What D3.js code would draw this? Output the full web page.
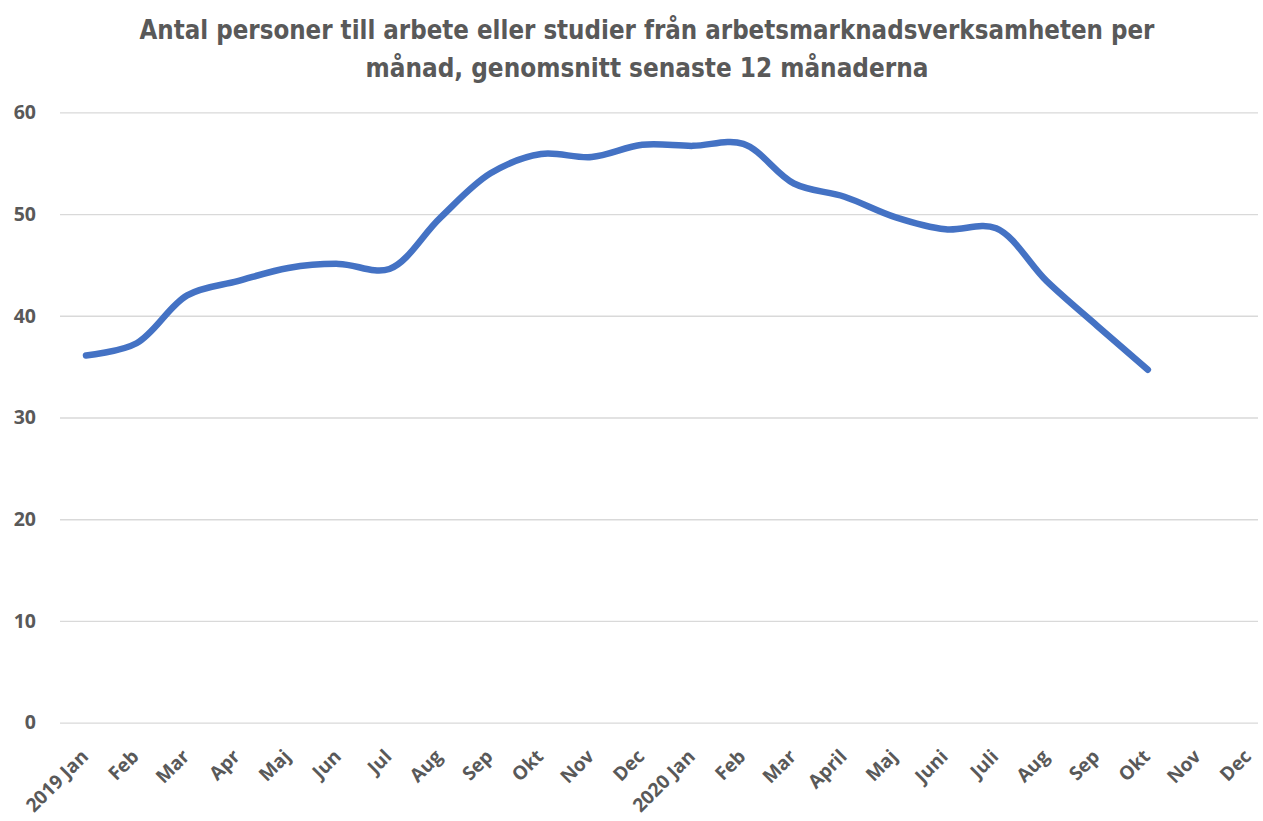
<!DOCTYPE html>
<html>
<head>
<meta charset="utf-8">
<script src="https://cdn.jsdelivr.net/npm/d3@7"></script>
<style>
  body { margin: 0; background: #fff; }
  svg { display: block; }
</style>
</head>
<body>
<div id="chart"></div>
<script>
const TITLE = ['Antal personer till arbete eller studier från arbetsmarknadsverksamheten per',
               'månad, genomsnitt senaste 12 månaderna'];
const TITLE_WIDTHS = [1015, 563];
const months = ['2019 Jan', 'Feb', 'Mar', 'Apr', 'Maj', 'Jun', 'Jul', 'Aug', 'Sep', 'Okt', 'Nov', 'Dec',
                '2020 Jan', 'Feb ', 'Mar ', 'April', 'Maj ', 'Juni', 'Juli', 'Aug ', 'Sep ', 'Okt ', 'Nov ', 'Dec '];
const values = [36.1, 37.3, 42.0, 43.4, 44.7, 45.1, 44.6, 49.6, 54.0, 55.9, 55.6, 56.8,
                56.7, 56.9, 53.0, 51.7, 49.7, 48.5, 48.6, 43.4, 39.0, 34.7];
const yTicks = [0, 10, 20, 30, 40, 50, 60];

const W = 1263, H = 821;
const grey = '#595959';

const svg = d3.select('#chart').append('svg')
    .attr('width', W).attr('height', H);

// title
svg.append('g').selectAll('text').data(TITLE).enter().append('text')
    .attr('x', 647)
    .attr('y', (d, i) => 39 + i * 38)
    .attr('text-anchor', 'middle')
    .attr('textLength', (d, i) => TITLE_WIDTHS[i])
    .attr('lengthAdjust', 'spacingAndGlyphs')
    .style('font-family', 'DejaVu Sans Condensed, sans-serif')
    .style('font-weight', 'bold')
    .style('font-size', '26px')
    .attr('fill', grey)
    .text(d => d);

const x = d3.scalePoint()
    .domain(months)
    .range([86, 1249]);

const y = d3.scaleLinear()
    .domain([0, 60])
    .range([722.7, 112.3]);

// gridlines
const yAxis = d3.axisLeft(y)
    .tickValues(yTicks)
    .tickSize(-(1258 - 60))
    .tickPadding(24);

const yG = svg.append('g')
    .attr('transform', 'translate(60,0)')
    .call(yAxis);
yG.select('.domain').remove();
yG.selectAll('.tick line').attr('stroke', '#d9d9d9').attr('stroke-width', 1.3);
yG.selectAll('.tick text')
    .attr('fill', grey)
    .style('font-family', 'Open Sans, sans-serif')
    .style('font-weight', 'bold')
    .style('font-size', '19.5px');

// x labels
const xAxis = d3.axisBottom(x).tickSize(0).tickPadding(0);
const xG = svg.append('g')
    .attr('transform', 'translate(0,722.7)')
    .call(xAxis);
xG.select('.domain').remove();
xG.selectAll('.tick text')
    .attr('fill', grey)
    .style('font-family', 'Open Sans, sans-serif')
    .style('font-weight', 'bold')
    .style('font-size', '19px')
    .attr('text-anchor', 'end')
    .attr('y', 0)
    .attr('dy', 0)
    .attr('transform', 'translate(3,35) rotate(-45)')
    .text(d => d.trim());

// line
const line = d3.line()
    .x((d, i) => x(months[i]))
    .y(d => y(d))
    .curve(d3.curveCatmullRom.alpha(0.5));

svg.append('path')
    .datum(values)
    .attr('fill', 'none')
    .attr('stroke', '#4472C4')
    .attr('stroke-width', 6.5)
    .attr('stroke-linecap', 'round')
    .attr('stroke-linejoin', 'round')
    .attr('d', line);
</script>
</body>
</html>
